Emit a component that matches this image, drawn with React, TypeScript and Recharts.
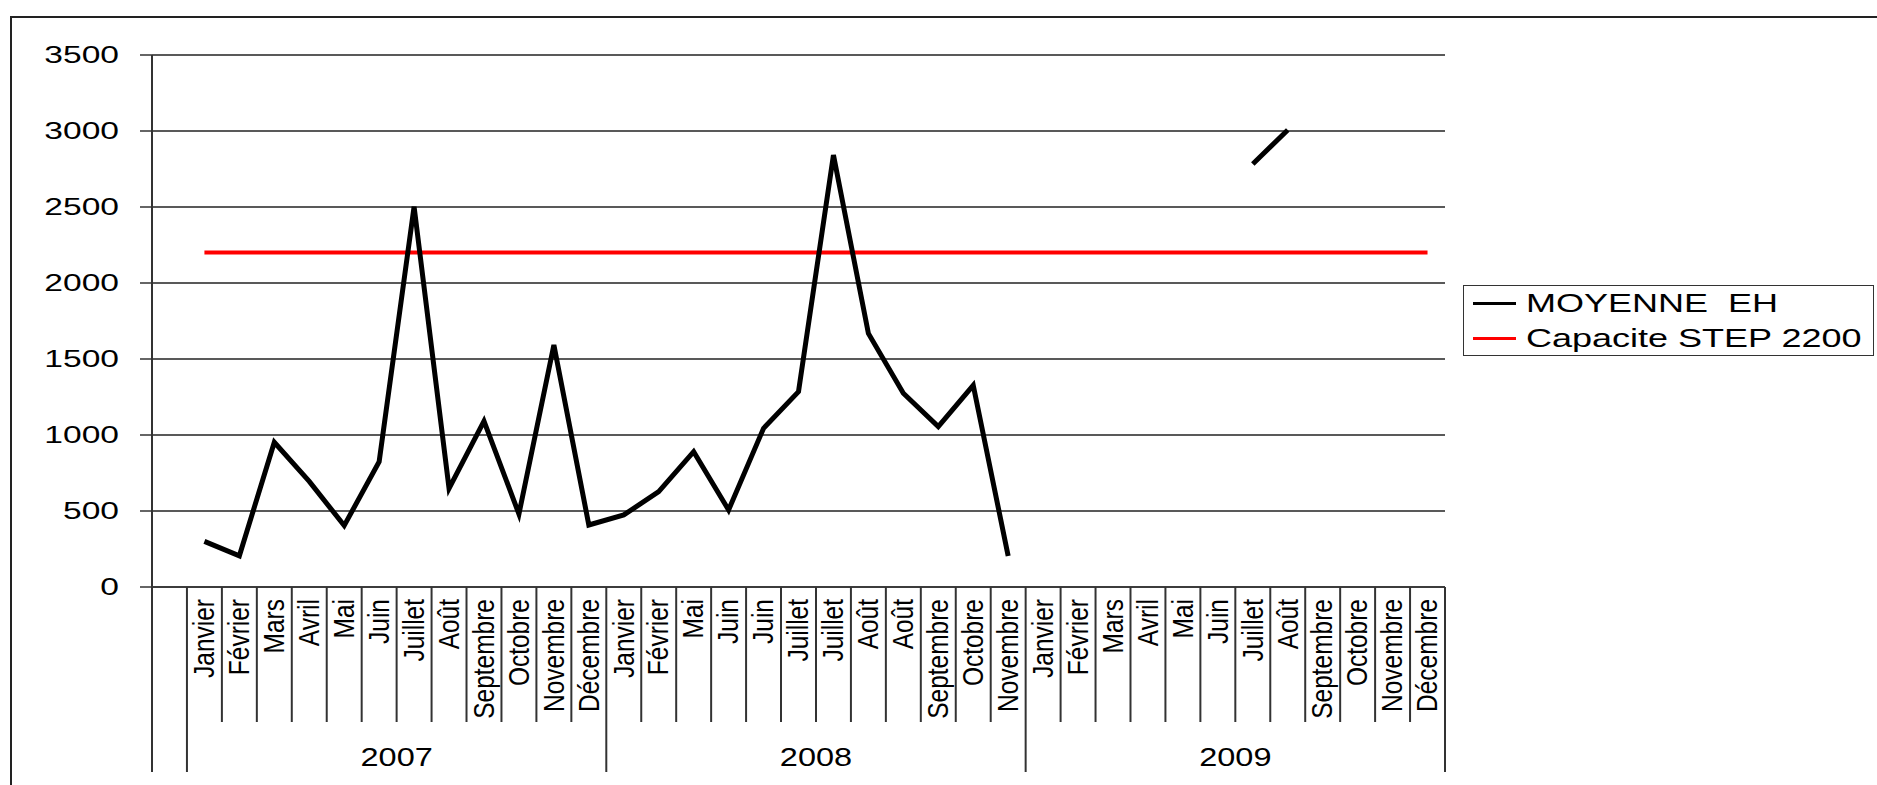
import React from "react";
import { LineChart, Line, XAxis, YAxis, CartesianGrid } from "recharts";

const years = ["2007", "2008", "2009"];
const months2007 = ["Janvier", "Février", "Mars", "Avril", "Mai", "Juin", "Juillet", "Août", "Septembre", "Octobre", "Novembre", "Décembre"];
const months2008 = ["Janvier", "Février", "Mai", "Juin", "Juin", "Juillet", "Juillet", "Août", "Août", "Septembre", "Octobre", "Novembre"];
const months2009 = ["Janvier", "Février", "Mars", "Avril", "Mai", "Juin", "Juillet", "Août", "Septembre", "Octobre", "Novembre", "Décembre"];

const moyenne2007 = [300, 205, 952, 695, 404, 825, 2502, 649, 1092, 480, 1592, 408];
const moyenne2008 = [474, 627, 890, 507, 1044, 1285, 2842, 1668, 1275, 1055, 1327, 204];
const moyenne2009 = [null, null, null, null, null, null, 2783, 3007, null, null, null, null];
const capaciteStep = 2200;

const yTicks = [0, 500, 1000, 1500, 2000, 2500, 3000, 3500];

const SERIES_MOYENNE = "MOYENNE  EH";
const SERIES_CAPACITE = "Capacite STEP 2200";

type Row = {
  key: string;
  month: string;
  year: string;
  first: boolean;
  moyenne: number | null;
  capacite: number | null;
};

const monthsByYear = [months2007, months2008, months2009];
const valuesByYear = [moyenne2007, moyenne2008, moyenne2009];

// first column of the original sheet is empty
const data: Row[] = [{ key: "vide", month: "", year: "", first: false, moyenne: null, capacite: null }];
years.forEach((year, y) => {
  monthsByYear[y].forEach((month, m) => {
    data.push({
      key: `${year}-${m}`,
      month,
      year,
      first: m === 0,
      moyenne: valuesByYear[y][m],
      capacite: capaciteStep,
    });
  });
});

const WIDTH = 1877;
const HEIGHT = 785;
const PLOT = { left: 152, right: 1445, top: 55, bottom: 587 };
const BAND = (PLOT.right - PLOT.left) / data.length;
const MONTH_SEP_END = 722;
const YEAR_SEP_END = 772;
const FONT = '"Liberation Sans", Arial, sans-serif';
const AXIS = "#333";

function ValueTick(props: any) {
  const { y, payload } = props;
  return (
    <text
      transform={`translate(119, ${y}) scale(1.4, 1)`}
      textAnchor="end"
      dominantBaseline="central"
      fontSize={24}
      fontFamily={FONT}
      fill="#000"
    >
      {payload.value}
    </text>
  );
}

function MonthTick(props: any) {
  const { x, payload } = props;
  const i = payload.index ?? props.index;
  const row = data[i];
  const left = x - BAND / 2;
  const right = x + BAND / 2;
  const tall = i === 0 || row.first;
  return (
    <g>
      <line x1={left} x2={left} y1={PLOT.bottom} y2={tall ? YEAR_SEP_END : MONTH_SEP_END} stroke={AXIS} strokeWidth={2} />
      {i === data.length - 1 && (
        <line x1={right} x2={right} y1={PLOT.bottom} y2={YEAR_SEP_END} stroke={AXIS} strokeWidth={2} />
      )}
      {row.month && (
        <text
          transform={`translate(${x}, 599) scale(1.2, 1) rotate(-90)`}
          textAnchor="end"
          dominantBaseline="central"
          fontSize={24.5}
          fontFamily={FONT}
          fill="#000"
        >
          {row.month}
        </text>
      )}
      {row.first && (
        <text
          transform={`translate(${left + 6 * BAND}, 757) scale(1.3, 1)`}
          textAnchor="middle"
          dominantBaseline="central"
          fontSize={25}
          fontFamily={FONT}
          fill="#000"
        >
          {row.year}
        </text>
      )}
    </g>
  );
}

function LegendBox() {
  const items = [
    { name: SERIES_MOYENNE, color: "#000" },
    { name: SERIES_CAPACITE, color: "#ff0000" },
  ];
  return (
    <div
      style={{
        position: "absolute",
        left: 1463,
        top: 285,
        width: 409,
        height: 69,
        border: "1.5px solid #333",
        background: "#fff",
        fontFamily: FONT,
      }}
    >
      {items.map((it) => (
        <div key={it.name} style={{ display: "flex", alignItems: "center", height: 35 }}>
          <div style={{ width: 43, height: 3, background: it.color, marginLeft: 9, marginRight: 10 }} />
          <span
            style={{
              fontSize: 25,
              whiteSpace: "pre",
              display: "inline-block",
              transform: "scaleX(1.44)",
              transformOrigin: "left center",
              color: "#000",
            }}
          >
            {it.name}
          </span>
        </div>
      ))}
    </div>
  );
}

export default function App() {
  return (
    <div
      style={{
        position: "absolute",
        left: 0,
        top: 0,
        width: WIDTH,
        height: HEIGHT,
        background: "#fff",
        overflow: "hidden",
      }}
    >
      <div
        style={{
          position: "absolute",
          left: 10,
          top: 16,
          width: WIDTH,
          height: HEIGHT,
          borderLeft: "2px solid #222",
          borderTop: "2px solid #222",
        }}
      />
      <div style={{ position: "absolute", left: 0, top: 0 }}>
        <LineChart
          width={WIDTH}
          height={HEIGHT}
          data={data}
          margin={{ top: PLOT.top, right: WIDTH - PLOT.right, left: 0, bottom: 0 }}
        >
          <CartesianGrid vertical={false} stroke="#222" strokeWidth={1.5} />
          <XAxis
            dataKey="key"
            scale="band"
            interval={0}
            tick={<MonthTick />}
            tickLine={false}
            axisLine={{ stroke: AXIS, strokeWidth: 1.5 }}
            height={HEIGHT - PLOT.bottom}
          />
          <YAxis
            domain={[0, 3500]}
            ticks={yTicks}
            width={PLOT.left}
            tick={<ValueTick />}
            tickSize={12}
            tickLine={{ stroke: AXIS, strokeWidth: 1.5 }}
            axisLine={{ stroke: AXIS, strokeWidth: 2 }}
          />
          <Line
            dataKey="capacite"
            name={SERIES_CAPACITE}
            stroke="#ff0000"
            strokeWidth={4}
            dot={false}
            isAnimationActive={false}
          />
          <Line
            dataKey="moyenne"
            name={SERIES_MOYENNE}
            stroke="#000"
            strokeWidth={5}
            dot={false}
            isAnimationActive={false}
          />
        </LineChart>
      </div>
      <LegendBox />
    </div>
  );
}
